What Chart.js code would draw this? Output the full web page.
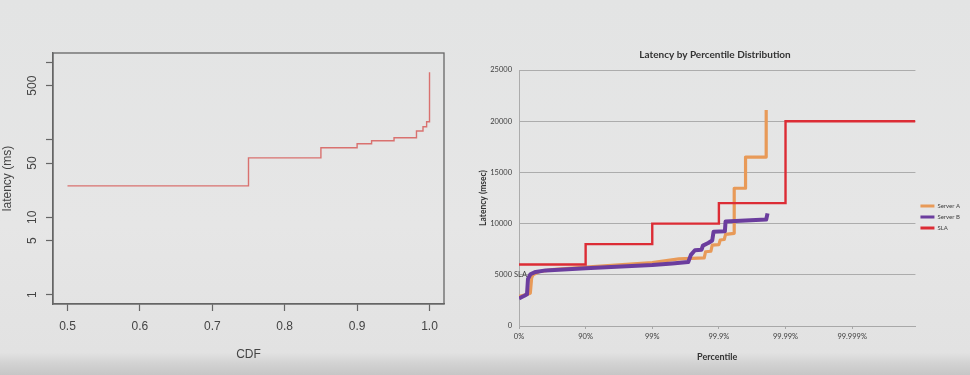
<!DOCTYPE html>
<html>
<head>
<meta charset="utf-8">
<script src="https://cdn.jsdelivr.net/npm/chart.js@4/dist/chart.umd.min.js"></script>
<style>
  html, body { margin: 0; padding: 0; }
  body {
    width: 970px; height: 375px; overflow: hidden; position: relative;
    background: linear-gradient(to bottom, #e3e4e4 0%, #e6e6e6 60%, #e2e2e2 94%, #d2d2d2 97%, #c6c6c6 100%);
  }
  #left { position: absolute; left: 0; top: 0; }
  #right { position: absolute; left: 460px; top: 0; }
</style>
</head>
<body>
<canvas id="left" width="460" height="375"></canvas>
<canvas id="right" width="510" height="375"></canvas>
<script>
// ---------- Left chart: CDF of latency (log scale) ----------
const cdfSteps   = [0.5, 0.75, 0.85, 0.90, 0.92, 0.951, 0.982, 0.991, 0.996, 1.0];
const latencyMs  = [25.4, 58.5, 79, 89, 97, 106, 130, 147, 171, 745];
const cdfTicks   = [0.5, 0.6, 0.7, 0.8, 0.9, 1.0];
const latTicks   = [1, 5, 10, 50, 100, 500, 1000];
const latLabels  = ['1', '5', '10', '50', '', '500', ''];

// ---------- Right chart: latency by percentile ----------
const pctTickPos    = [0, 1, 2, 3, 4, 5];
const pctTickLabels = ['0%', '90%', '99%', '99.9%', '99.99%', '99.999%'];
const msecTicks     = [0, 5000, 10000, 15000, 20000, 25000];
const seriesNames   = ['Server A', 'Server B', 'SLA'];

const serverANines = [0, 0.1, 0.17, 0.19, 0.21, 0.3, 0.5, 1.0, 2.0, 2.4, 2.78, 2.8, 2.88, 2.9, 3.0, 3.02, 3.08, 3.1, 3.23, 3.23, 3.40, 3.40, 3.71, 3.71];
const serverAMsec  = [2900, 3050, 3200, 4700, 5000, 5300, 5500, 5750, 6200, 6550, 6650, 7250, 7300, 7900, 7950, 8400, 8450, 8950, 9050, 13450, 13450, 16500, 16500, 21100];

const serverBNines = [0, 0.08, 0.12, 0.135, 0.17, 0.25, 0.4, 1.0, 2.0, 2.3, 2.54, 2.58, 2.64, 2.74, 2.76, 2.84, 2.9, 2.92, 3.09, 3.1, 3.4, 3.71, 3.73];
const serverBMsec  = [2700, 2950, 3100, 4600, 5050, 5280, 5430, 5650, 5950, 6100, 6250, 6950, 7400, 7450, 7850, 8100, 8350, 9200, 9250, 10200, 10300, 10400, 11000];

const slaNines = [0, 1, 2, 3, 4, 5.95];
const slaMsec  = [6000, 8000, 10000, 12000, 20000, 20000];
const slaNote  = 'SLA';

const pts = (xs, ys) => xs.map((x, i) => ({x: x, y: ys[i]}));

// frame plugin (R box)
const framePlugin = {
  id: 'frame',
  afterDraw(chart) {
    const a = chart.chartArea, ctx = chart.ctx;
    ctx.save();
    ctx.strokeStyle = '#666';
    ctx.lineWidth = 1.3;
    ctx.strokeRect(a.left, a.top, a.right - a.left, a.bottom - a.top);
    ctx.restore();
  }
};

new Chart(document.getElementById('left'), {
  type: 'line',
  data: {
    datasets: [{
      data: pts(cdfSteps, latencyMs),
      borderColor: '#d9716f',
      borderWidth: 1.4,
      pointRadius: 0,
      stepped: 'before',
      fill: false
    }]
  },
  options: {
    responsive: false,
    animation: false,
    devicePixelRatio: 1,
    layout: { padding: { top: 53, right: 16, bottom: 0, left: 0 } },
    plugins: { legend: { display: false }, tooltip: { enabled: false } },
    scales: {
      x: {
        type: 'linear', min: 0.48, max: 1.02, bounds: 'data',
        afterBuildTicks: s => { s.ticks = cdfTicks.map(v => ({value: v})); },
        afterFit: s => { s.height = 71; },
        grid: { drawOnChartArea: false, tickLength: 7, tickColor: '#666', tickWidth: 1.2 },
        border: { color: '#666', width: 1.3 },
        ticks: { color: '#444', font: { family: 'Liberation Sans', size: 12 }, padding: 8,
                 callback: v => v.toFixed(1), autoSkip: false, maxRotation: 0 },
        title: { display: true, text: 'CDF', color: '#444', font: { family: 'Liberation Sans', size: 12 },
                 padding: { top: 0, bottom: 13 } }
      },
      y: {
        type: 'logarithmic', min: 0.76, max: 1318, bounds: 'data',
        afterBuildTicks: s => { s.ticks = latTicks.map(v => ({value: v})); },
        afterFit: s => { s.width = 53; },
        grid: { drawOnChartArea: false, tickLength: 7, tickColor: '#666', tickWidth: 1.2 },
        border: { color: '#666', width: 1.3 },
        ticks: { color: '#444', font: { family: 'Liberation Sans', size: 12 }, padding: 3,
                 minRotation: 90, maxRotation: 90, crossAlign: 'center', autoSkip: false,
                 callback: (v, i) => latLabels[i] },
        title: { display: true, text: 'latency (ms)', color: '#444', font: { family: 'Liberation Sans', size: 12 },
                 padding: { top: 0, bottom: 0 } }
      }
    }
  },
  plugins: [framePlugin]
});

// data note plugin for right chart
const notePlugin = {
  id: 'note',
  afterDatasetsDraw(chart) {
    const xs = chart.scales.x, ys = chart.scales.y, ctx = chart.ctx;
    ctx.save();
    ctx.font = '7.5px Lato';
    ctx.fillStyle = '#404040';
    ctx.textAlign = 'left';
    ctx.textBaseline = 'middle';
    ctx.fillText(slaNote, xs.getPixelForValue(0) - 5, ys.getPixelForValue(5000));
    ctx.restore();
  }
};

const seriesColors = ['#e89a58', '#6b3d9e', '#dc2c35'];

new Chart(document.getElementById('right'), {
  type: 'line',
  data: {
    datasets: [
      { label: seriesNames[0], data: pts(serverANines, serverAMsec), borderColor: seriesColors[0], backgroundColor: seriesColors[0],
        borderWidth: 3.2, pointRadius: 0, order: 2, borderJoinStyle: 'round' },
      { label: seriesNames[1], data: pts(serverBNines, serverBMsec), borderColor: seriesColors[1], backgroundColor: seriesColors[1],
        borderWidth: 4, pointRadius: 0, order: 1, borderJoinStyle: 'round' },
      { label: seriesNames[2], data: pts(slaNines, slaMsec), borderColor: seriesColors[2], backgroundColor: seriesColors[2],
        borderWidth: 2.4, pointRadius: 0, order: 0, stepped: 'before' }
    ]
  },
  options: {
    responsive: false,
    animation: false,
    devicePixelRatio: 1,
    layout: { padding: { top: 0, right: 0, bottom: 0, left: 0 } },
    plugins: {
      tooltip: { enabled: false },
      title: { display: true, text: 'Latency by Percentile Distribution', color: '#333',
               font: { family: 'Lato', size: 10, weight: 'bold' }, padding: { top: 49, bottom: 9 } },
      legend: {
        position: 'right', fullSize: false, reverse: true, align: 'center',
        title: { display: true, text: ' ', font: { size: 6 }, padding: { top: 31, bottom: 0 } },
        labels: {
          boxWidth: 14, boxHeight: 3, padding: 5, color: '#404040', font: { family: 'Lato', size: 6 },
          generateLabels: chart => Chart.defaults.plugins.legend.labels.generateLabels(chart)
                                     .map(item => Object.assign(item, { lineWidth: 0 }))
        }
      }
    },
    scales: {
      x: {
        type: 'linear', min: 0, max: 5.95, bounds: 'data',
        afterBuildTicks: s => { s.ticks = pctTickPos.map(v => ({value: v})); },
        afterFit: s => { s.height = 49; },
        grid: { drawOnChartArea: false, tickLength: 3, tickColor: '#a8a8a8' },
        border: { color: '#a8a8a8', width: 1 },
        ticks: { color: '#404040', font: { family: 'Lato', size: 7.5 }, padding: 3, autoSkip: false, maxRotation: 0,
                 callback: (v, i) => pctTickLabels[i] },
        title: { display: true, text: 'Percentile', color: '#333', font: { family: 'Lato', size: 9, weight: 'bold' },
                 padding: { top: 0, bottom: 13 } }
      },
      y: {
        type: 'linear', min: 0, max: 25000, bounds: 'data',
        afterBuildTicks: s => { s.ticks = msecTicks.map(v => ({value: v})); },
        afterFit: s => { s.width = 59; },
        grid: { color: '#acacac', lineWidth: 1, drawTicks: false },
        border: { color: '#acacac', width: 1 },
        ticks: { color: '#404040', font: { family: 'Lato', size: 7.5 }, padding: 7, autoSkip: false,
                 callback: v => String(v) },
        title: { display: true, text: 'Latency (msec)', color: '#333', font: { family: 'Lato', size: 8.5, weight: 'bold' },
                 padding: { top: 18, bottom: 0 } }
      }
    }
  },
  plugins: [notePlugin]
});
</script>
</body>
</html>
